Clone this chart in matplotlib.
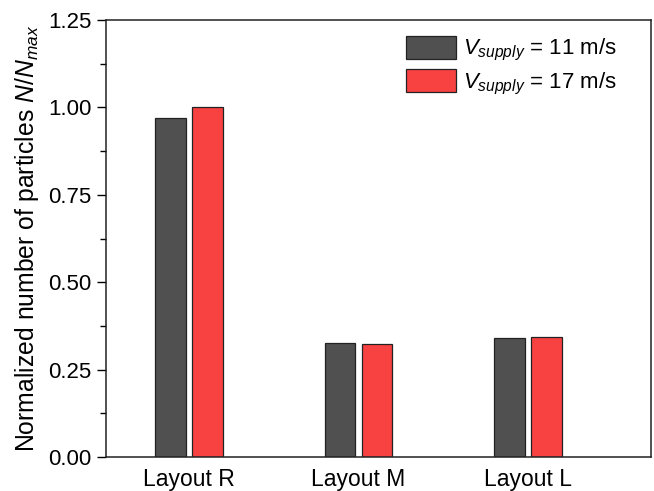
import matplotlib
matplotlib.use("Agg")
import matplotlib.pyplot as plt
import numpy as np
from matplotlib.ticker import MultipleLocator

plt.rcParams['font.family'] = ['Liberation Sans', 'DejaVu Sans']
plt.rcParams['mathtext.fontset'] = 'custom'
plt.rcParams['mathtext.rm'] = 'Liberation Sans'
plt.rcParams['mathtext.it'] = 'Liberation Sans:italic'
plt.rcParams['mathtext.bf'] = 'Liberation Sans:bold'

categories = ["Layout R", "Layout M", "Layout L"]
v11 = [0.970, 0.325, 0.341]
v17 = [1.000, 0.322, 0.344]
series_labels = [r"$V_{supply}$ = 11 m/s", r"$V_{supply}$ = 17 m/s"]
yticks = [0.00, 0.25, 0.50, 0.75, 1.00, 1.25]

fig = plt.figure(figsize=(6.54, 4.91), dpi=100)
ax = fig.add_axes([106/654, 34/491, 545/654, 437/491])

x = np.arange(len(categories))
w = 0.18
off = 0.109
ax.bar(x - off, v11, w, color='#505050', edgecolor='#222222', linewidth=0.9, label=series_labels[0])
ax.bar(x + off, v17, w, color='#F84242', edgecolor='#222222', linewidth=0.9, label=series_labels[1])

ax.set_xlim(-0.49, 2.725)
ax.set_ylim(0, 1.25)
ax.set_yticks(yticks)
ax.set_yticklabels([f"{t:.2f}" for t in yticks])
ax.yaxis.set_minor_locator(MultipleLocator(0.125))
ax.set_xticks(x)
ax.set_xticklabels(categories)
ax.tick_params(axis='y', which='major', direction='out', length=6.5, width=1, labelsize=16, pad=4)
ax.tick_params(axis='y', which='minor', direction='out', length=4, width=1)
ax.tick_params(axis='x', which='both', length=0, labelsize=16.5, pad=8)
for s in ax.spines.values():
    s.set_linewidth(1.1)
    s.set_color('#222222')

ax.set_ylabel(r"Normalized number of particles $N/N_{max}$", fontsize=17.8, labelpad=5)

ax.legend(loc='upper left', bbox_to_anchor=(0.55, 0.963), frameon=False, fontsize=16,
          handlelength=2.25, handleheight=1.17, labelspacing=0.27, handletextpad=0.32,
          borderpad=0, borderaxespad=0)

fig.savefig("out.png", dpi=100)
